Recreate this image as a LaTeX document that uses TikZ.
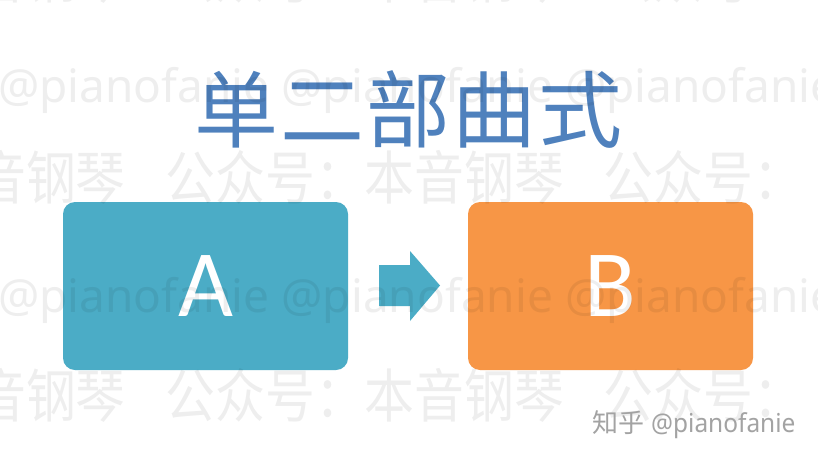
\documentclass[tikz,border=0pt]{standalone}
\usepackage{fontspec}
\newfontfamily\cjk{Noto Sans CJK SC}
\newfontfamily\wmlat{Noto Sans}
\newfontfamily\lat{Carlito}
\definecolor{titleblue}{HTML}{4F81BD}
\definecolor{boxblue}{HTML}{4BACC6}
\definecolor{boxorange}{HTML}{F79646}
\definecolor{zhgray}{HTML}{A3A3A3}
\newcommand{\wmrow}{\scalebox{0.86}[1]{音钢琴\hspace{46pt}公众号：本音钢琴\hspace{46pt}公众号：}}
\tikzset{
  box/.style={rounded corners=12pt, minimum width=285pt, minimum height=168pt, inner sep=0pt,
    text=white, font=\lat\fontsize{95}{95}\selectfont},
  wm/.style={inner sep=0pt, text=black, opacity=0.065, text opacity=0.065},
  wmcjk/.style={wm, anchor=west, font=\cjk\fontsize{58}{58}\selectfont},
  wmlatin/.style={wm, anchor=base west, font=\wmlat\fontsize{46}{46}\selectfont},
}
\begin{document}
\begin{tikzpicture}[x=1pt,y=-1pt]
\useasboundingbox (0,0) rectangle (818,460);
\fill[white] (0,0) rectangle (818,460);
% title
\node[text=titleblue, font=\cjk\fontsize{84}{84}\selectfont, inner sep=0pt] (title) at (408.5,109)
  {单\hspace{2pt}二\hspace{2pt}部\hspace{2pt}曲\hspace{2pt}式};
% boxes
\node[box, fill=boxblue] (A) at (205.5,286) {A};
\node[box, fill=boxorange] (B) at (610.5,286) {B};
% block arrow
\fill[boxblue] (379,265) -- (410,265) -- (410,251) -- (440,285.5) -- (410,321) -- (410,306) -- (379,306) -- cycle;
% watermarks
\node[wmcjk] (w0) at (-24,-24) {\wmrow};
\node[wmlatin] (w1) at (-2,102) {@pianofanie @pianofanie @pianofanie};
\node[wmcjk] (w2) at (-24,177) {\wmrow};
\node[wmlatin] (w3) at (-2,312) {@pianofanie @pianofanie @pianofanie};
\node[wmcjk] (w4) at (-24,395) {\wmrow};
% zhihu mark
\node[anchor=west, inner sep=0pt, text=zhgray] (zh) at (592,425)
  {\cjk\fontsize{26}{26}\selectfont 知乎\hspace{7pt}\wmlat\scalebox{0.94}[1]{@pianofanie}};
\end{tikzpicture}
\end{document}
